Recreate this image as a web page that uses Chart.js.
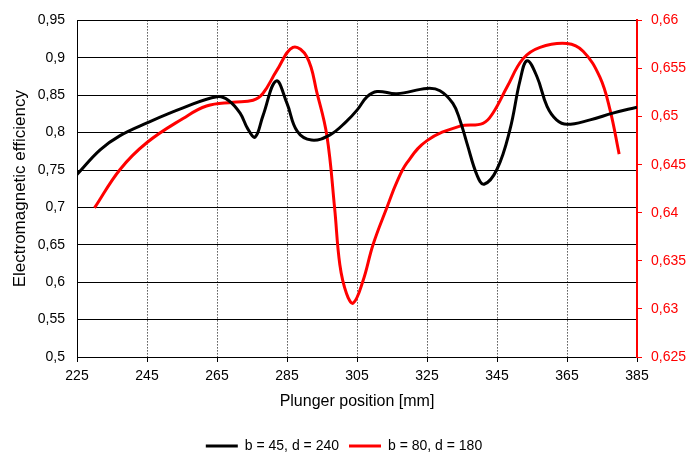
<!DOCTYPE html>
<html>
<head>
<meta charset="utf-8">
<script src="https://cdn.jsdelivr.net/npm/chart.js@4/dist/chart.umd.min.js"></script>
<style>
  body { margin: 0; background: #fff; }
</style>
</head>
<body>
<canvas id="efficiencyChart" width="688" height="455"></canvas>
<script>
// Plunger position [mm] and efficiency
const blackX = [225, 231.6, 237.3, 245, 255.3, 265, 268.3, 271.6, 273.8, 275.9, 278.1, 281.9, 285, 287.9, 292, 297.3, 302, 305, 307.9, 310.7, 316.4, 325, 328.7, 332.4, 334.4, 336.4, 339.3, 341.3, 345, 348.7, 351.6, 353.6, 356.4, 359.3, 362, 365, 371.6, 378.1, 385];
const blackY = [0.744, 0.777, 0.796, 0.813, 0.833, 0.848, 0.843, 0.826, 0.805, 0.794, 0.822, 0.869, 0.839, 0.802, 0.790, 0.797, 0.815, 0.830, 0.848, 0.855, 0.852, 0.859, 0.856, 0.839, 0.817, 0.786, 0.743, 0.731, 0.751, 0.804, 0.870, 0.896, 0.875, 0.835, 0.817, 0.811, 0.817, 0.826, 0.834];

const redX = [230, 237.3, 245, 255.3, 262, 269.6, 275.3, 278.1, 282.1, 286.7, 290.7, 293.6, 296.4, 298.6, 300.1, 302, 303.9, 306.7, 309.6, 313.6, 316.4, 319.3, 325, 334.4, 341, 343.9, 347.9, 352.4, 357.3, 365, 369.6, 374.4, 377.3, 379.9];
const redY = [0.6405, 0.6445, 0.6473, 0.6498, 0.6511, 0.6515, 0.6517, 0.6524, 0.6548, 0.6572, 0.6562, 0.6524, 0.6480, 0.6405, 0.6346, 0.6316, 0.6306, 0.6329, 0.6367, 0.6406, 0.6432, 0.6452, 0.6475, 0.6490, 0.6493, 0.6504, 0.6531, 0.6560, 0.6572, 0.6576, 0.6568, 0.6541, 0.6507, 0.6461];

const seriesNames = ['b = 45, d = 240', 'b = 80, d = 180'];

const xTicks = { min: 225, max: 385, step: 20 };
const leftTicks = { min: 0.5, max: 0.95, step: 0.05 };
const rightTicks = { min: 0.625, max: 0.66, step: 0.005 };

const padBottom = -8;

// comma as decimal separator
function commaNum(v) {
    return parseFloat(v.toFixed(4)).toString().replace('.', ',');
}

function toPoints(xs, ys) {
    return xs.map((x, i) => ({ x: x, y: ys[i] }));
}

const tickFont = { family: 'Liberation Sans, Arial, sans-serif', size: 14 };

new Chart(document.getElementById('efficiencyChart'), {
    type: 'line',
    data: {
        datasets: [{
            label: seriesNames[0],
            data: toPoints(blackX, blackY),
            borderColor: '#000000',
            backgroundColor: '#000000',
            borderWidth: 3,
            pointRadius: 0,
            tension: 0.4,
            yAxisID: 'y'
        }, {
            label: seriesNames[1],
            data: toPoints(redX, redY),
            borderColor: '#ff0000',
            backgroundColor: '#ff0000',
            borderWidth: 3,
            pointRadius: 0,
            tension: 0.4,
            yAxisID: 'y2'
        }]
    },
    options: {
        responsive: false,
        animation: false,
        layout: { padding: { top: 16, left: 0, right: 0, bottom: padBottom } },
        plugins: {
            tooltip: { enabled: false },
            legend: {
                position: 'bottom',
                labels: {
                    color: '#000',
                    font: tickFont,
                    boxWidth: 32,
                    boxHeight: 3,
                    padding: 10,
                    // thin line-like legend boxes
                    generateLabels: (chart) => {
                        const items = Chart.defaults.plugins.legend.labels.generateLabels(chart);
                        items.forEach(item => { item.lineWidth = 0; });
                        return items;
                    }
                }
            }
        },
        scales: {
            x: {
                type: 'linear',
                min: xTicks.min,
                max: xTicks.max,
                ticks: { stepSize: xTicks.step, color: '#000', font: tickFont, padding: 6 },
                grid: { color: '#000', lineWidth: 1, tickLength: 5 },
                border: { color: '#000', width: 1, dash: [1, 2] },
                title: {
                    display: true,
                    text: 'Plunger position [mm]',
                    color: '#000',
                    font: { family: 'Liberation Sans, Arial, sans-serif', size: 16 },
                    padding: { top: 4, bottom: 18 }
                },
                afterFit: (scale) => { scale.height = 455 - padBottom - 357 - scale.chart.legend.height; }
            },
            y: {
                position: 'left',
                min: leftTicks.min,
                max: leftTicks.max,
                ticks: { stepSize: leftTicks.step, color: '#000', font: tickFont, padding: 12, callback: commaNum },
                grid: { color: '#000', lineWidth: 1, drawTicks: false },
                border: { color: '#000', width: 1 },
                title: {
                    display: true,
                    text: 'Electromagnetic efficiency',
                    color: '#000',
                    font: { family: 'Liberation Sans, Arial, sans-serif', size: 17 },
                    padding: { top: 10, bottom: 0 }
                },
                afterFit: (scale) => { scale.width = 77; }
            },
            y2: {
                position: 'right',
                min: rightTicks.min,
                max: rightTicks.max,
                ticks: { stepSize: rightTicks.step, color: '#ff0000', font: tickFont, padding: 9, callback: commaNum },
                grid: { drawOnChartArea: false, color: '#ff0000', tickLength: 5 },
                border: { color: '#ff0000', width: 2 },
                afterFit: (scale) => { scale.width = 51; }
            }
        }
    }
});
</script>
</body>
</html>
